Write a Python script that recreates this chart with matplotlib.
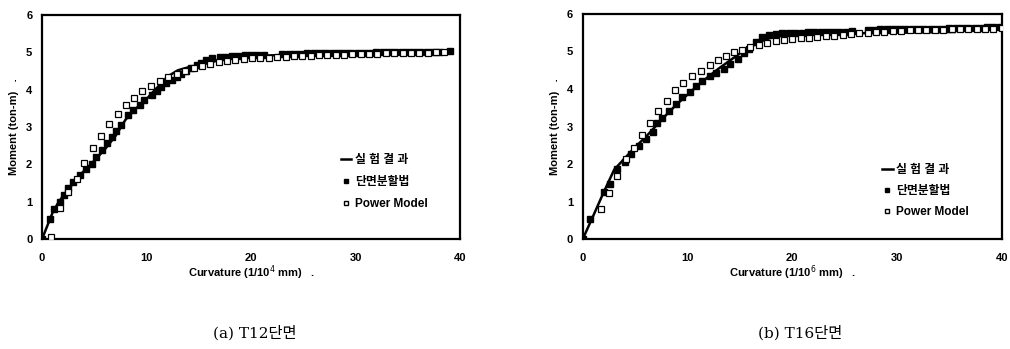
import matplotlib.pyplot as plt
from matplotlib.lines import Line2D

plt.rcParams['font.family'] = ['Liberation Sans', 'Noto Sans CJK KR']

# ---- T12 section (left) ----
t12_test_x = [0, 0.5, 1, 1.5, 2, 3, 4, 5, 6, 7, 8, 9, 10, 11, 12, 13, 14, 15,
              16, 17, 18, 20, 22, 25, 30, 35, 38]
t12_test_y = [0, 0.35, 0.7, 0.95, 1.15, 1.5, 1.82, 2.1, 2.4, 2.75, 3.2, 3.5,
              3.75, 4.05, 4.35, 4.52, 4.6, 4.65, 4.72, 4.8, 4.86, 4.9, 4.92,
              4.95, 4.97, 4.98, 5.0]

t12_fiber_x = [0, 0.8, 1.1, 1.7, 2.1, 2.5, 3.0, 3.65, 4.2, 4.8, 5.2, 5.7, 6.2,
               6.7, 7.1, 7.6, 8.25, 8.7, 9.4, 9.8, 10.5, 11.0, 11.4, 11.9,
               12.4, 12.9, 13.3, 13.8, 14.3, 14.8, 15.2, 15.7, 16.3, 17.0,
               17.6, 18.2, 18.8, 19.4, 20.0, 20.6, 21.2, 23.0, 23.6, 24.2,
               24.8, 25.4, 26.0, 26.6, 27.2, 27.8, 28.4, 29.0, 29.6, 30.2,
               30.8, 31.4, 32.0, 32.6, 33.2, 33.8, 34.4, 35.0, 35.6, 36.2,
               36.8, 37.4, 38.0, 39.0]
t12_fiber_y = [0, 0.53, 0.8, 0.99, 1.18, 1.36, 1.54, 1.71, 1.87, 2.0, 2.2, 2.38,
               2.56, 2.74, 2.89, 3.05, 3.32, 3.46, 3.59, 3.72, 3.86, 3.97,
               4.08, 4.17, 4.26, 4.33, 4.42, 4.51, 4.57, 4.66, 4.72, 4.79,
               4.84, 4.87, 4.88, 4.9, 4.91, 4.92, 4.93, 4.93, 4.94, 4.95,
               4.96, 4.96, 4.96, 4.97, 4.97, 4.97, 4.98, 4.98, 4.98, 4.98,
               4.99, 4.99, 4.99, 4.99, 5.0, 5.0, 5.0, 5.0, 5.0, 5.01, 5.01,
               5.01, 5.01, 5.02, 5.02, 5.03]

t12_power_x = [0.9, 1.7, 2.5, 3.3, 4.0, 4.85, 5.65, 6.45, 7.25, 8.0, 8.8, 9.6,
               10.4, 11.3, 12.1, 12.9, 13.7, 14.5, 15.3, 16.1, 16.9, 17.7,
               18.5, 19.3, 20.1, 20.9, 21.7, 22.5, 23.3, 24.1, 24.9, 25.7,
               26.5, 27.3, 28.1, 28.9, 29.7, 30.5, 31.3, 32.1, 32.9, 33.7,
               34.5, 35.3, 36.1, 36.9, 37.7, 38.5]
t12_power_y = [0.05, 0.82, 1.25, 1.6, 2.05, 2.43, 2.76, 3.08, 3.35, 3.58, 3.79,
               3.96, 4.1, 4.23, 4.35, 4.42, 4.5, 4.57, 4.64, 4.7, 4.75, 4.78,
               4.8, 4.82, 4.84, 4.85, 4.86, 4.87, 4.88, 4.89, 4.9, 4.91, 4.92,
               4.93, 4.93, 4.94, 4.95, 4.95, 4.96, 4.96, 4.97, 4.97, 4.98,
               4.98, 4.99, 4.99, 5.0, 5.0]

# ---- T16 section (right) ----
t16_test_x = [0, 1, 2, 3, 3.5, 5, 6, 7, 8, 9, 10, 11, 12, 13, 14, 15, 16, 17,
              18, 19, 20, 22, 25, 30, 35.5]
t16_test_y = [0, 0.62, 1.25, 1.85, 2.0, 2.45, 2.72, 3.02, 3.32, 3.6, 3.85, 4.1,
              4.33, 4.55, 4.75, 4.95, 5.12, 5.27, 5.37, 5.42, 5.45, 5.47,
              5.48, 5.5, 5.52]

t16_fiber_x = [0, 0.73, 2.06, 2.6, 3.3, 4.06, 4.6, 5.4, 6.0, 6.7, 7.1, 7.6,
               8.25, 8.9, 9.5, 10.2, 10.8, 11.4, 12.1, 12.7, 13.5, 14.1, 14.8,
               15.4, 15.9, 16.5, 17.1, 17.8, 18.4, 19.0, 19.7, 20.3, 20.9,
               21.5, 22.1, 22.7, 23.3, 23.9, 24.5, 25.1, 25.7, 27.2, 27.8,
               28.4, 29.0, 29.6, 30.2, 30.8, 31.4, 32.0, 32.6, 33.2, 33.8,
               34.4, 35.0, 35.6, 36.2, 36.8, 37.4, 38.0, 38.6, 39.2, 39.8]
t16_fiber_y = [0, 0.53, 1.26, 1.48, 1.87, 2.06, 2.27, 2.47, 2.67, 2.86, 3.09,
               3.24, 3.42, 3.6, 3.78, 3.91, 4.09, 4.2, 4.34, 4.43, 4.53, 4.67,
               4.8, 4.96, 5.07, 5.24, 5.38, 5.44, 5.47, 5.48, 5.49, 5.5, 5.5,
               5.51, 5.51, 5.52, 5.52, 5.53, 5.53, 5.53, 5.54, 5.58, 5.58,
               5.59, 5.59, 5.59, 5.6, 5.6, 5.6, 5.6, 5.61, 5.61, 5.61, 5.61,
               5.62, 5.62, 5.62, 5.63, 5.63, 5.63, 5.64, 5.64, 5.65]

t16_power_x = [1.7, 2.5, 3.3, 4.1, 4.9, 5.65, 6.45, 7.2, 8.0, 8.8, 9.6, 10.4,
               11.3, 12.1, 12.9, 13.7, 14.4, 15.2, 16.0, 16.8, 17.6, 18.4,
               19.2, 20.0, 20.8, 21.6, 22.4, 23.2, 24.0, 24.8, 25.6, 26.4,
               27.2, 28.0, 28.8, 29.6, 30.4, 31.2, 32.0, 32.8, 33.6, 34.4,
               35.2, 36.0, 36.8, 37.6, 38.4, 39.2, 40.0]
t16_power_y = [0.8, 1.24, 1.67, 2.13, 2.44, 2.77, 3.09, 3.42, 3.69, 3.96, 4.16,
               4.34, 4.49, 4.64, 4.77, 4.89, 4.98, 5.04, 5.11, 5.17, 5.23,
               5.27, 5.3, 5.33, 5.35, 5.37, 5.38, 5.4, 5.42, 5.44, 5.46, 5.48,
               5.5, 5.52, 5.53, 5.54, 5.55, 5.56, 5.57, 5.57, 5.58, 5.58,
               5.59, 5.59, 5.6, 5.6, 5.61, 5.61, 5.62]

panels = [
    dict(rect=[0.0416, 0.315, 0.4139, 0.642], test=(t12_test_x, t12_test_y),
         fiber=(t12_fiber_x, t12_fiber_y), power=(t12_power_x, t12_power_y),
         xlabel='Curvature (1/10$^{4}$ mm)   .', caption='(a) T12단면', cap_x=0.252,
         leg_anchor=(0.70, 0.405), spacing=(0.85)),
    dict(rect=[0.577, 0.315, 0.4149, 0.645], test=(t16_test_x, t16_test_y),
         fiber=(t16_fiber_x, t16_fiber_y), power=(t16_power_x, t16_power_y),
         xlabel='Curvature (1/10$^{6}$ mm)   .', caption='(b) T16단면', cap_x=0.792,
         leg_anchor=(0.70, 0.36), spacing=(0.75)),
]

fig = plt.figure(figsize=(10.10, 3.49), dpi=100)

for p in panels:
    ax = fig.add_axes(p['rect'])
    ax.plot(p['test'][0], p['test'][1], color='black', lw=1.8, zorder=2)
    ax.plot(p['fiber'][0], p['fiber'][1], ls='none', marker='s', ms=4,
            mfc='black', mec='black', zorder=3)
    ax.plot(p['power'][0], p['power'][1], ls='none', marker='s', ms=4.2,
            mfc='white', mec='black', mew=0.9, zorder=3)
    ax.set_xlim(0, 40)
    ax.set_ylim(0, 6)
    ax.set_xticks([0, 10, 20, 30, 40])
    ax.set_yticks([0, 1, 2, 3, 4, 5, 6])
    ax.tick_params(axis='x', length=0, labelsize=8, pad=10)
    ax.tick_params(axis='y', length=0, labelsize=8, pad=7)
    for lab in ax.get_xticklabels() + ax.get_yticklabels():
        lab.set_fontweight('bold')
    for s in ax.spines.values():
        s.set_linewidth(1.6)
    ax.set_xlabel(p['xlabel'], fontsize=8, fontweight='bold', labelpad=0)
    ax.set_ylabel('Moment (ton-m)   .', fontsize=8, fontweight='bold', labelpad=5)

    handles = [
        Line2D([], [], color='black', lw=1.8),
        Line2D([], [], ls='none', marker='s', ms=3.5, mfc='black', mec='black'),
        Line2D([], [], ls='none', marker='s', ms=3.5, mfc='white', mec='black'),
    ]
    labels = ['실 험 결 과', '단면분할법', 'Power Model']
    ax.legend(handles, labels, loc='upper left', bbox_to_anchor=p['leg_anchor'],
              frameon=False, handlelength=0.9, handletextpad=0.3,
              labelspacing=p['spacing'], borderpad=0,
              prop={'size': 8.5, 'weight': 'bold'})

    fig.text(p['cap_x'], 0.045, p['caption'], ha='center', va='center',
             fontsize=11, family=['DejaVu Serif', 'Noto Sans CJK KR'])

fig.savefig('out.png', dpi=100)
